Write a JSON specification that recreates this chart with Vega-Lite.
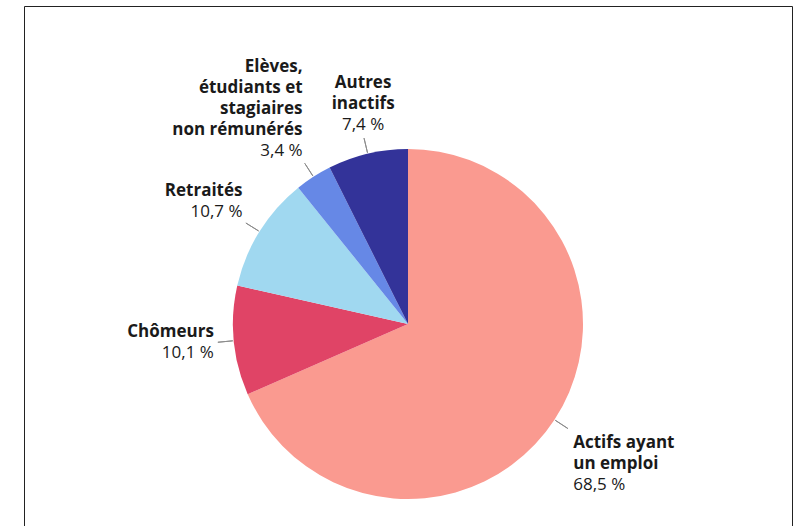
{
  "$schema": "https://vega.github.io/schema/vega-lite/v6.json",
  "width": 768,
  "height": 636,
  "autosize": {"type": "none"},
  "padding": {"left": 24, "top": 6, "right": 4, "bottom": -116},
  "background": "white",
  "view": {"stroke": "#222222", "strokeWidth": 1},
  "config": {
    "view": {"stroke": "#222222", "strokeWidth": 1},
    "font": "Open Sans",
    "text": {"font": "Open Sans", "fontSize": 17, "lineHeight": 21, "lineBreak": "\n", "color": "#1a1a1a"}
  },
  "data": {
    "values": [
      {"categorie": "Actifs ayant un emploi", "nom": "Actifs ayant\nun emploi", "pct": "68,5 %", "valeur": 68.5, "rang": 1},
      {"categorie": "Chômeurs", "nom": "Chômeurs", "pct": "10,1 %", "valeur": 10.1, "rang": 2},
      {"categorie": "Retraités", "nom": "Retraités", "pct": "10,7 %", "valeur": 10.7, "rang": 3},
      {"categorie": "Elèves, étudiants et stagiaires non rémunérés", "nom": "Elèves,\nétudiants et\nstagiaires\nnon rémunérés", "pct": "3,4 %", "valeur": 3.4, "rang": 4},
      {"categorie": "Autres inactifs", "nom": "Autres\ninactifs", "pct": "7,4 %", "valeur": 7.4, "rang": 5}
    ]
  },
  "transform": [
    {"stack": "valeur", "groupby": [], "sort": [{"field": "rang", "order": "ascending"}], "as": ["debut", "fin"]}
  ],
  "layer": [
    {
      "mark": {"type": "arc", "radius": 175},
      "encoding": {
        "theta": {"field": "debut", "type": "quantitative", "scale": {"domain": [0, 100.1]}},
        "theta2": {"field": "fin"},
        "color": {
          "field": "categorie",
          "type": "nominal",
          "scale": {
            "domain": ["Actifs ayant un emploi", "Chômeurs", "Retraités", "Elèves, étudiants et stagiaires non rémunérés", "Autres inactifs"],
            "range": ["#fa9a90", "#e04466", "#a0d8f0", "#6688e6", "#333399"]
          },
          "legend": null
        }
      }
    },
    {
      "transform": [
        {"fold": ["debut", "fin"], "as": ["bord", "angle"]},
        {"aggregate": [{"op": "mean", "field": "angle", "as": "milieu"}], "groupby": ["categorie", "nom", "pct", "rang"]}
      ],
      "layer": [
        {
          "mark": {"type": "arc", "radius": 191, "radius2": 176, "filled": false, "stroke": "#8c8c8c", "strokeWidth": 1},
          "encoding": {
            "theta": {"field": "milieu", "type": "quantitative", "scale": {"domain": [0, 100.1]}},
            "theta2": {"field": "milieu"}
          }
        },
        {
          "transform": [{"filter": {"field": "rang", "equal": 1}}],
          "mark": {"type": "text", "radius": 195, "align": "left", "baseline": "top", "dx": 2, "dy": 4, "fontWeight": "bold"},
          "encoding": {
            "theta": {"field": "milieu", "type": "quantitative", "scale": {"domain": [0, 100.1]}},
            "text": {"field": "nom", "type": "nominal"}
          }
        },
        {
          "transform": [{"filter": {"field": "rang", "equal": 1}}],
          "mark": {"type": "text", "radius": 195, "align": "left", "baseline": "top", "dx": 2, "dy": 46},
          "encoding": {
            "theta": {"field": "milieu", "type": "quantitative", "scale": {"domain": [0, 100.1]}},
            "text": {"field": "pct", "type": "nominal"}
          }
        },
        {
          "transform": [{"filter": {"field": "rang", "equal": 2}}],
          "mark": {"type": "text", "radius": 195, "align": "right", "baseline": "bottom", "dy": -2, "fontWeight": "bold"},
          "encoding": {
            "theta": {"field": "milieu", "type": "quantitative", "scale": {"domain": [0, 100.1]}},
            "text": {"field": "nom", "type": "nominal"}
          }
        },
        {
          "transform": [{"filter": {"field": "rang", "equal": 2}}],
          "mark": {"type": "text", "radius": 195, "align": "right", "baseline": "top", "dy": 2},
          "encoding": {
            "theta": {"field": "milieu", "type": "quantitative", "scale": {"domain": [0, 100.1]}},
            "text": {"field": "pct", "type": "nominal"}
          }
        },
        {
          "transform": [{"filter": {"field": "rang", "equal": 3}}],
          "mark": {"type": "text", "radius": 195, "align": "right", "baseline": "bottom", "dy": -21, "fontWeight": "bold"},
          "encoding": {
            "theta": {"field": "milieu", "type": "quantitative", "scale": {"domain": [0, 100.1]}},
            "text": {"field": "nom", "type": "nominal"}
          }
        },
        {
          "transform": [{"filter": {"field": "rang", "equal": 4}}],
          "mark": {"type": "text", "radius": 195, "align": "right", "baseline": "bottom", "dy": -84, "fontWeight": "bold"},
          "encoding": {
            "theta": {"field": "milieu", "type": "quantitative", "scale": {"domain": [0, 100.1]}},
            "text": {"field": "nom", "type": "nominal"}
          }
        },
        {
          "transform": [{"filter": {"field": "rang", "oneOf": [3, 4]}}],
          "mark": {"type": "text", "radius": 195, "align": "right", "baseline": "bottom"},
          "encoding": {
            "theta": {"field": "milieu", "type": "quantitative", "scale": {"domain": [0, 100.1]}},
            "text": {"field": "pct", "type": "nominal"}
          }
        },
        {
          "transform": [{"filter": {"field": "rang", "equal": 5}}],
          "mark": {"type": "text", "radius": 195, "align": "center", "baseline": "bottom", "dy": -42, "fontWeight": "bold"},
          "encoding": {
            "theta": {"field": "milieu", "type": "quantitative", "scale": {"domain": [0, 100.1]}},
            "text": {"field": "nom", "type": "nominal"}
          }
        },
        {
          "transform": [{"filter": {"field": "rang", "equal": 5}}],
          "mark": {"type": "text", "radius": 195, "align": "center", "baseline": "bottom"},
          "encoding": {
            "theta": {"field": "milieu", "type": "quantitative", "scale": {"domain": [0, 100.1]}},
            "text": {"field": "pct", "type": "nominal"}
          }
        }
      ]
    }
  ]
}
